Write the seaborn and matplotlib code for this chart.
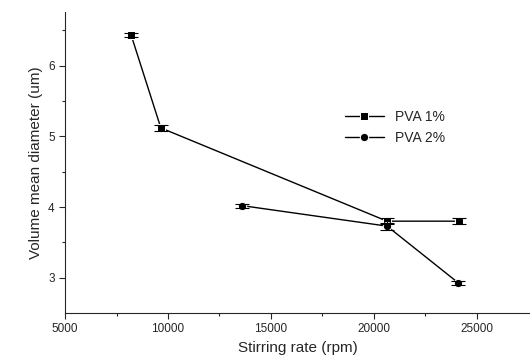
import seaborn as sns
import pandas as pd
import matplotlib.pyplot as plt

rate_1 = [8200, 9650, 20650, 24150]
diam_1 = [6.44, 5.12, 3.80, 3.80]
err_1 = [0.03, 0.04, 0.04, 0.04]

rate_2 = [13600, 20650, 24100]
diam_2 = [4.02, 3.73, 2.93]
err_2 = [0.03, 0.05, 0.03]

df = pd.concat([
    pd.DataFrame({'rate': rate_1, 'diam': diam_1, 'err': err_1, 'group': 'PVA 1%'}),
    pd.DataFrame({'rate': rate_2, 'diam': diam_2, 'err': err_2, 'group': 'PVA 2%'}),
])

sns.set_style('ticks')
plt.rcParams['font.family'] = ['Liberation Sans', 'DejaVu Sans']

fig = plt.figure(figsize=(5.3, 3.64), dpi=100)
ax = fig.add_axes([0.123, 0.14, 0.877, 0.827])

sns.lineplot(data=df, x='rate', y='diam', hue='group', style='group',
             markers={'PVA 1%': 's', 'PVA 2%': 'o'}, dashes=False,
             palette={'PVA 1%': 'black', 'PVA 2%': 'black'},
             markersize=6, linewidth=1, sort=False, ax=ax)

for g, d in df.groupby('group'):
    ax.errorbar(d['rate'], d['diam'], yerr=d['err'], fmt='none',
                ecolor='black', elinewidth=0.8, capsize=5, capthick=0.8)

ax.set_xlim(5000, 27600)
ax.set_ylim(2.5, 6.76)
ax.set_xticks([5000, 10000, 15000, 20000, 25000])
ax.set_xticks([7500, 12500, 17500, 22500], minor=True)
ax.set_yticks([3, 4, 5, 6])
ax.set_yticks([3.5, 4.5, 5.5, 6.5], minor=True)
ax.tick_params(labelsize=8.5, length=4, width=0.8)
ax.tick_params(which='minor', length=2.5, width=0.8)
ax.set_xlabel('Stirring rate (rpm)', fontsize=11)
ax.set_ylabel('Volume mean diameter (um)', fontsize=11)
sns.despine(ax=ax)

ax.legend(title=None, frameon=False, fontsize=10, loc='upper left',
          bbox_to_anchor=(0.575, 0.715), handlelength=2.8, labelspacing=0.45)

fig.savefig('out.png', dpi=100)
